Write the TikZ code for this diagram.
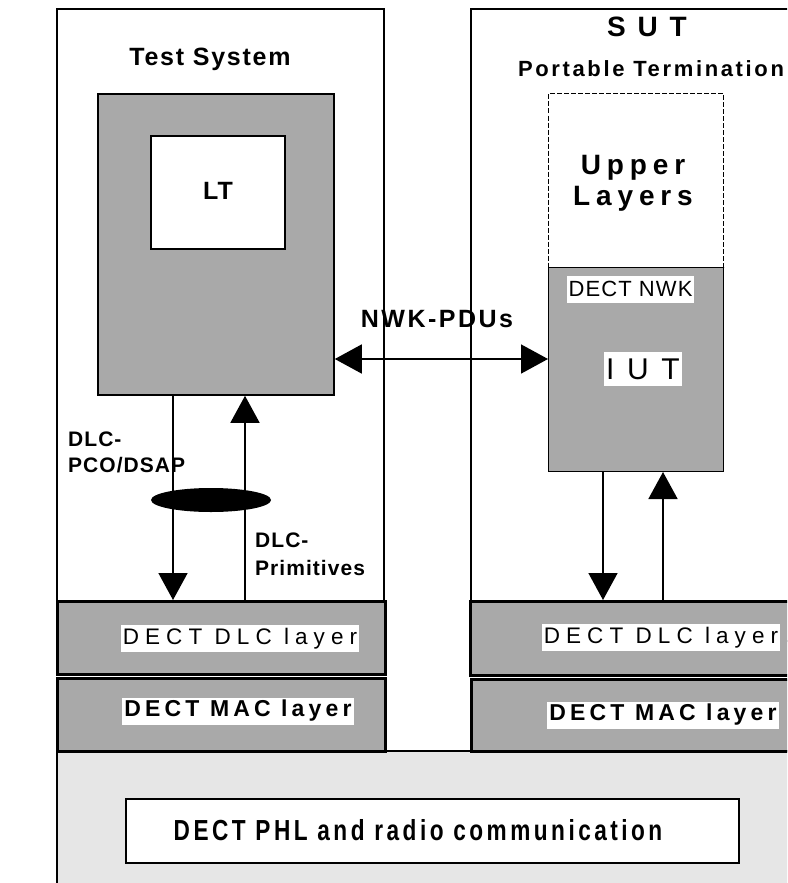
\documentclass[tikz,border=0pt]{standalone}
\usepackage{fontspec}
\setmainfont{Liberation Sans}
\usepackage{tikz}
\usetikzlibrary{arrows.meta,shapes.geometric,positioning}
\definecolor{DectGrey}{HTML}{A9A9A9}
\definecolor{DectPale}{HTML}{E6E6E6}
\newcommand{\dectsize}[3]{\fontsize{#1}{#2}\selectfont\addfontfeature{LetterSpace=#3}}

\begin{document}
\begin{tikzpicture}[x=1pt,y=-1pt,
    frame/.style={draw,line width=1.8pt,inner sep=0pt,anchor=north west},
    greybox/.style={frame,fill=DectGrey},
    layerbox/.style={frame,fill=DectGrey,line width=2.6pt},
    tag/.style={fill=white,inner xsep=2pt,inner ysep=0pt,minimum height=27pt},
    txt/.style={inner sep=0pt},
    bigarrow/.style={-{Triangle[length=27pt,width=29pt]},line width=1.6pt},
    twoway/.style={{Triangle[length=27pt,width=29pt]}-{Triangle[length=27pt,width=29pt]},line width=1.6pt}]
  \useasboundingbox (0,0) rectangle (787,883);
  \clip (0,0) rectangle (787,883);

  % outer frames
  \node[frame,minimum width=327,minimum height=632] (tsys) at (56,8) {};
  \node[frame,minimum width=330,minimum height=632] (sut) at (470,8) {};
  \node[txt,anchor=base,font=\bfseries\dectsize{25}{30}{7}] (tstitle) at (210,66) {Test System};
  \node[txt,anchor=base,font=\bfseries\dectsize{28}{30}{42}] (suttitle) at (647,37) {SUT};
  \node[txt,anchor=base,font=\bfseries\dectsize{22}{25}{12}] (pttitle) at (651,76) {Portable Termination};

  % test system side
  \node[greybox,minimum width=236,minimum height=301] (tsbox) at (97,93) {};
  \node[frame,fill=white,minimum width=134,minimum height=113] (lt) at (150,135) {};
  \node[txt,anchor=base,font=\bfseries\dectsize{25}{30}{4}] (lttext) at (218,199) {LT};

  % SUT side
  \node[frame,line width=1pt,dash pattern=on 5pt off 2pt,minimum width=175,minimum height=174] (upper) at (548,93) {};
  \node[txt,align=center,font=\bfseries\dectsize{28}{31}{21}] (uptext) at (633,183) {Upper\\Layers};
  \node[greybox,line width=1pt,minimum width=175,minimum height=204] (iut) at (548,267) {};
  \node[tag,font=\dectsize{22}{25}{5}] (nwk) at (630.5,289) {DECT NWK};
  \node[tag,minimum height=34pt,font=\dectsize{30}{34}{42}] (iuttext) at (643,369) {IUT};

  % bottom layers
  \node[frame,fill=DectPale,minimum width=760,minimum height=160] (phy) at (56,750) {};
  \node[frame,fill=white,minimum width=613,minimum height=64] (phl) at (125,798) {};
  \node[txt,anchor=base,font=\bfseries\fontsize{29}{32}\selectfont\addfontfeature{FakeStretch=0.78,LetterSpace=12}] (phltext) at (418,840) {DECT PHL and radio communication};

  \node[layerbox,minimum width=328,minimum height=73] (dlcL) at (56,600) {};
  \node[layerbox,minimum width=328,minimum height=73] (macL) at (56,677) {};
  \node[layerbox,minimum width=330,minimum height=74] (dlcR) at (469,600) {};
  \node[layerbox,minimum width=330,minimum height=72] (macR) at (470,678) {};
  \node[tag,font=\dectsize{22.5}{25}{27}] (dlcLtext) at (240,638.5) {DECT DLC layer};
  \node[tag,font=\bfseries\dectsize{23}{25}{18}] (macLtext) at (238,711) {DECT MAC layer};
  \node[tag,font=\dectsize{22.5}{25}{27}] (dlcRtext) at (661,637.5) {DECT DLC layer};
  \node[tag,font=\bfseries\dectsize{23}{25}{18}] (macRtext) at (663,715) {DECT MAC layer};

  % service access point
  \coordinate (pcoX) at (173,0);
  \coordinate (primX) at (245,0);
  \coordinate (iutdnX) at (603,0);
  \coordinate (iutupX) at (663,0);
  \coordinate (pduY) at (0,359);
  \draw[bigarrow] (tsbox.south -| pcoX) -- (dlcL.north -| pcoX);
  \draw[bigarrow] (dlcL.north -| primX) -- (tsbox.south -| primX);
  \node[ellipse,fill=black,inner sep=0pt,minimum width=120,minimum height=24] (sap) at (211,500) {};
  \node[txt,anchor=north west,align=left,font=\bfseries\dectsize{21}{26}{5}] (pco) at (68,432) {DLC-\\PCO/DSAP};
  \node[txt,anchor=north west,align=left,font=\bfseries\dectsize{21}{28}{5}] (prim) at (255,533) {DLC-\\Primitives};

  \draw[bigarrow] (iut.south -| iutdnX) -- (dlcR.north -| iutdnX);
  \draw[bigarrow] (dlcR.north -| iutupX) -- (iut.south -| iutupX);

  % peer to peer
  \draw[twoway] (tsbox.east |- pduY) -- (iut.west |- pduY);
  \node[txt,anchor=base,font=\bfseries\dectsize{25}{30}{10}] (pdu) at (437,327) {NWK-PDUs};
\end{tikzpicture}
\end{document}
